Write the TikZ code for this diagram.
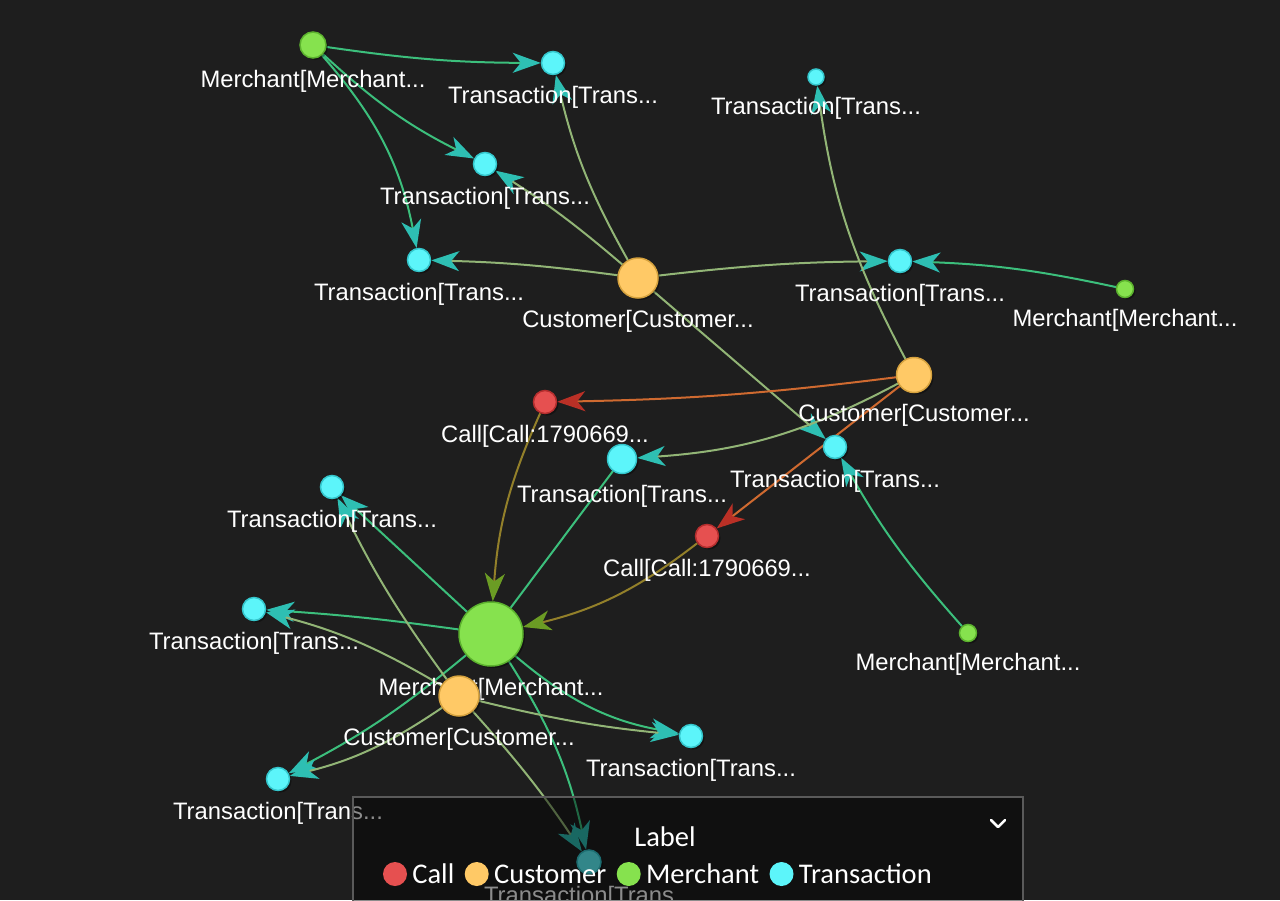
\documentclass[tikz,border=0pt]{standalone}
\usepackage{fontspec}
\setmainfont{Liberation Sans}
\newfontfamily\legendfont{Carlito}
\usetikzlibrary{arrows.meta, positioning, shadows}

\definecolor{bgc}{HTML}{1E1E1E}
\definecolor{merchf}{HTML}{86E24E}
\definecolor{merchd}{HTML}{5CB22E}
\definecolor{custf}{HTML}{FFC966}
\definecolor{custd}{HTML}{D6A23E}
\definecolor{callf}{HTML}{E65050}
\definecolor{calld}{HTML}{B52E2E}
\definecolor{transf}{HTML}{5CF5FA}
\definecolor{transd}{HTML}{34C6CC}
\definecolor{edgeMT}{HTML}{3CBF7C}
\definecolor{edgeCT}{HTML}{92B576}
\definecolor{edgeCK}{HTML}{CF6A30}
\definecolor{edgeKM}{HTML}{93802A}
\definecolor{arrT}{HTML}{2EBFB3}
\definecolor{arrM}{HTML}{6B9C24}
\definecolor{arrK}{HTML}{BA3026}
\definecolor{legbord}{HTML}{5A5A5A}

\pgfdeclarelayer{edges}
\pgfdeclarelayer{labels}
\pgfdeclarelayer{legend}
\pgfsetlayers{edges,labels,main,legend}

\begin{document}
\begin{tikzpicture}[
      x=1pt, y=1pt,
      vertex/.style={circle, inner sep=0pt, line width=1.5pt,
        drop shadow={shadow xshift=2pt, shadow yshift=-2pt, opacity=0.35, fill=black}},
      merchant/.style={vertex, fill=merchf, draw=merchd},
      customer/.style={vertex, fill=custf, draw=custd},
      call/.style={vertex, fill=callf, draw=calld},
      trans/.style={vertex, fill=transf, draw=transd},
      lab/.style={text=white, inner sep=0pt, font=\fontsize{23.8}{28}\selectfont},
      link/.style={line width=2pt},
      mt/.style={link, draw=edgeMT, -{Stealth[length=28pt, width=20pt, inset=8pt, color=arrT]}},
      ct/.style={link, draw=edgeCT, -{Stealth[length=28pt, width=20pt, inset=8pt, color=arrT]}},
      ck/.style={link, draw=edgeCK, -{Stealth[length=28pt, width=20pt, inset=8pt, color=arrK]}},
      km/.style={link, draw=edgeKM, -{Stealth[length=28pt, width=20pt, inset=8pt, color=arrM]}},
      legdot/.style={circle, inner sep=0pt, minimum size=24pt},
      legtext/.style={text=white, inner sep=0pt, font=\legendfont\fontsize{28.5}{33}\selectfont}
    ]

    \begin{pgfonlayer}{edges}
      \fill[bgc] (0,0) rectangle (1280,-900);
    \end{pgfonlayer}
    \useasboundingbox (0,0) rectangle (1280,-900);

    % merchants
    \node[merchant, minimum size=26pt] (m1) at (313,-45) {};
    \node[merchant, minimum size=17pt] (m2) at (1125,-289) {};
    \node[merchant, minimum size=17pt] (m3) at (968,-633) {};
    \node[merchant, minimum size=64pt] (m4) at (491,-634) {};

    % customers
    \node[customer, minimum size=40pt] (c1) at (638,-278) {};
    \node[customer, minimum size=35pt] (c2) at (914,-375) {};
    \node[customer, minimum size=40pt] (c3) at (459,-696) {};

    % calls
    \node[call, minimum size=23pt] (k1) at (545,-402) {};
    \node[call, minimum size=23pt] (k2) at (707,-536) {};

    % transactions
    \node[trans, minimum size=23pt] (t1) at (553,-63) {};
    \node[trans, minimum size=16pt] (t2) at (816,-77) {};
    \node[trans, minimum size=23pt] (t3) at (485,-164) {};
    \node[trans, minimum size=23pt] (t4) at (419,-260) {};
    \node[trans, minimum size=23pt] (t5) at (900,-261) {};
    \node[trans, minimum size=29pt] (t6) at (622,-459) {};
    \node[trans, minimum size=23pt] (t7) at (835,-447) {};
    \node[trans, minimum size=23pt] (t8) at (332,-487) {};
    \node[trans, minimum size=23pt] (t9) at (254,-609) {};
    \node[trans, minimum size=23pt] (t10) at (691,-736) {};
    \node[trans, minimum size=23pt] (t11) at (278,-779) {};
    \node[trans, minimum size=24pt] (t12) at (589,-862) {};

    \begin{pgfonlayer}{edges}
      \draw[mt] (m1) to[bend right=4] (t1);
      \draw[mt] (m1) to[bend right=8] (t3);
      \draw[mt] (m1) to[bend left=15] (t4);
      \draw[mt] (m2) to[bend right=5] (t5);
      \draw[mt] (m3) to[bend left=6] (t7);
      \draw[link, draw=edgeMT] (m4) -- (t6);
      \draw[mt] (m4) -- (t8);
      \draw[mt] (m4) to[bend right=2] (t9);
      \draw[mt] (m4) to[bend left=6] (t11);
      \draw[mt] (m4) to[bend right=15] (t10);
      \draw[mt] (m4) to[bend left=10] (t12);

      \draw[ct] (c1) to[bend right=3] (t4);
      \draw[ct] (c1) to[bend right=4] (t3);
      \draw[ct] (c1) to[bend left=8] (t1);
      \draw[ct] (c1) to[bend left=3] (t5);
      \draw[ct] (c1) -- (t7);
      \draw[ct] (c2) to[bend left=10] (t2);
      \draw[ct] (c2) to[bend left=12] (t6);
      \draw[ct] (c3) to[bend left=5] (t8);
      \draw[ct] (c3) to[bend right=8] (t9);
      \draw[ct] (c3) to[bend left=10] (t11);
      \draw[ct] (c3) to[bend right=4] (t10);
      \draw[ct] (c3) to[bend left=4] (t12);

      \draw[ck] (c2) to[bend left=3] (k1);
      \draw[ck] (c2) -- (k2);

      \draw[km] (k1) to[bend right=10] (m4);
      \draw[km] (k2) to[bend left=12] (m4);
    \end{pgfonlayer}

    \begin{pgfonlayer}{labels}
      \foreach \n in {m1,m2,m3,m4}
        \node[lab, below=11pt of \n] (\n-lab) {Merchant[Merchant...};
      \foreach \n in {c1,c2,c3}
        \node[lab, below=11pt of \n] (\n-lab) {Customer[Customer...};
      \foreach \n in {k1,k2}
        \node[lab, below=11pt of \n] (\n-lab) {Call[Call:1790669...};
      \foreach \n in {t1,t2,t3,t4,t5,t6,t7,t8,t9,t10,t11,t12}
        \node[lab, below=11pt of \n] (\n-lab) {Transaction[Trans...};
    \end{pgfonlayer}

    % legend
    \begin{pgfonlayer}{legend}
      \filldraw[fill=black, fill opacity=0.45, draw=legbord, line width=1.5pt]
        (353,-797) rectangle (1023,-915);
      \node[legtext] (legtitle) at (665,-837) {Label};
      \draw[white, line width=2.5pt, line cap=round, line join=round]
        (991,-820) -- (998,-827) -- (1005,-820);
      \node[legdot, fill=callf] (lg-call) at (395,-874) {};
      \node[legtext, right=5pt of lg-call] (lg-call-t) {Call};
      \node[legdot, fill=custf, right=10pt of lg-call-t] (lg-cust) {};
      \node[legtext, right=5pt of lg-cust] (lg-cust-t) {Customer};
      \node[legdot, fill=merchf, right=10pt of lg-cust-t] (lg-merch) {};
      \node[legtext, right=5pt of lg-merch] (lg-merch-t) {Merchant};
      \node[legdot, fill=transf, right=10pt of lg-merch-t] (lg-trans) {};
      \node[legtext, right=5pt of lg-trans] (lg-trans-t) {Transaction};
    \end{pgfonlayer}

    \end{tikzpicture}
\end{document}
